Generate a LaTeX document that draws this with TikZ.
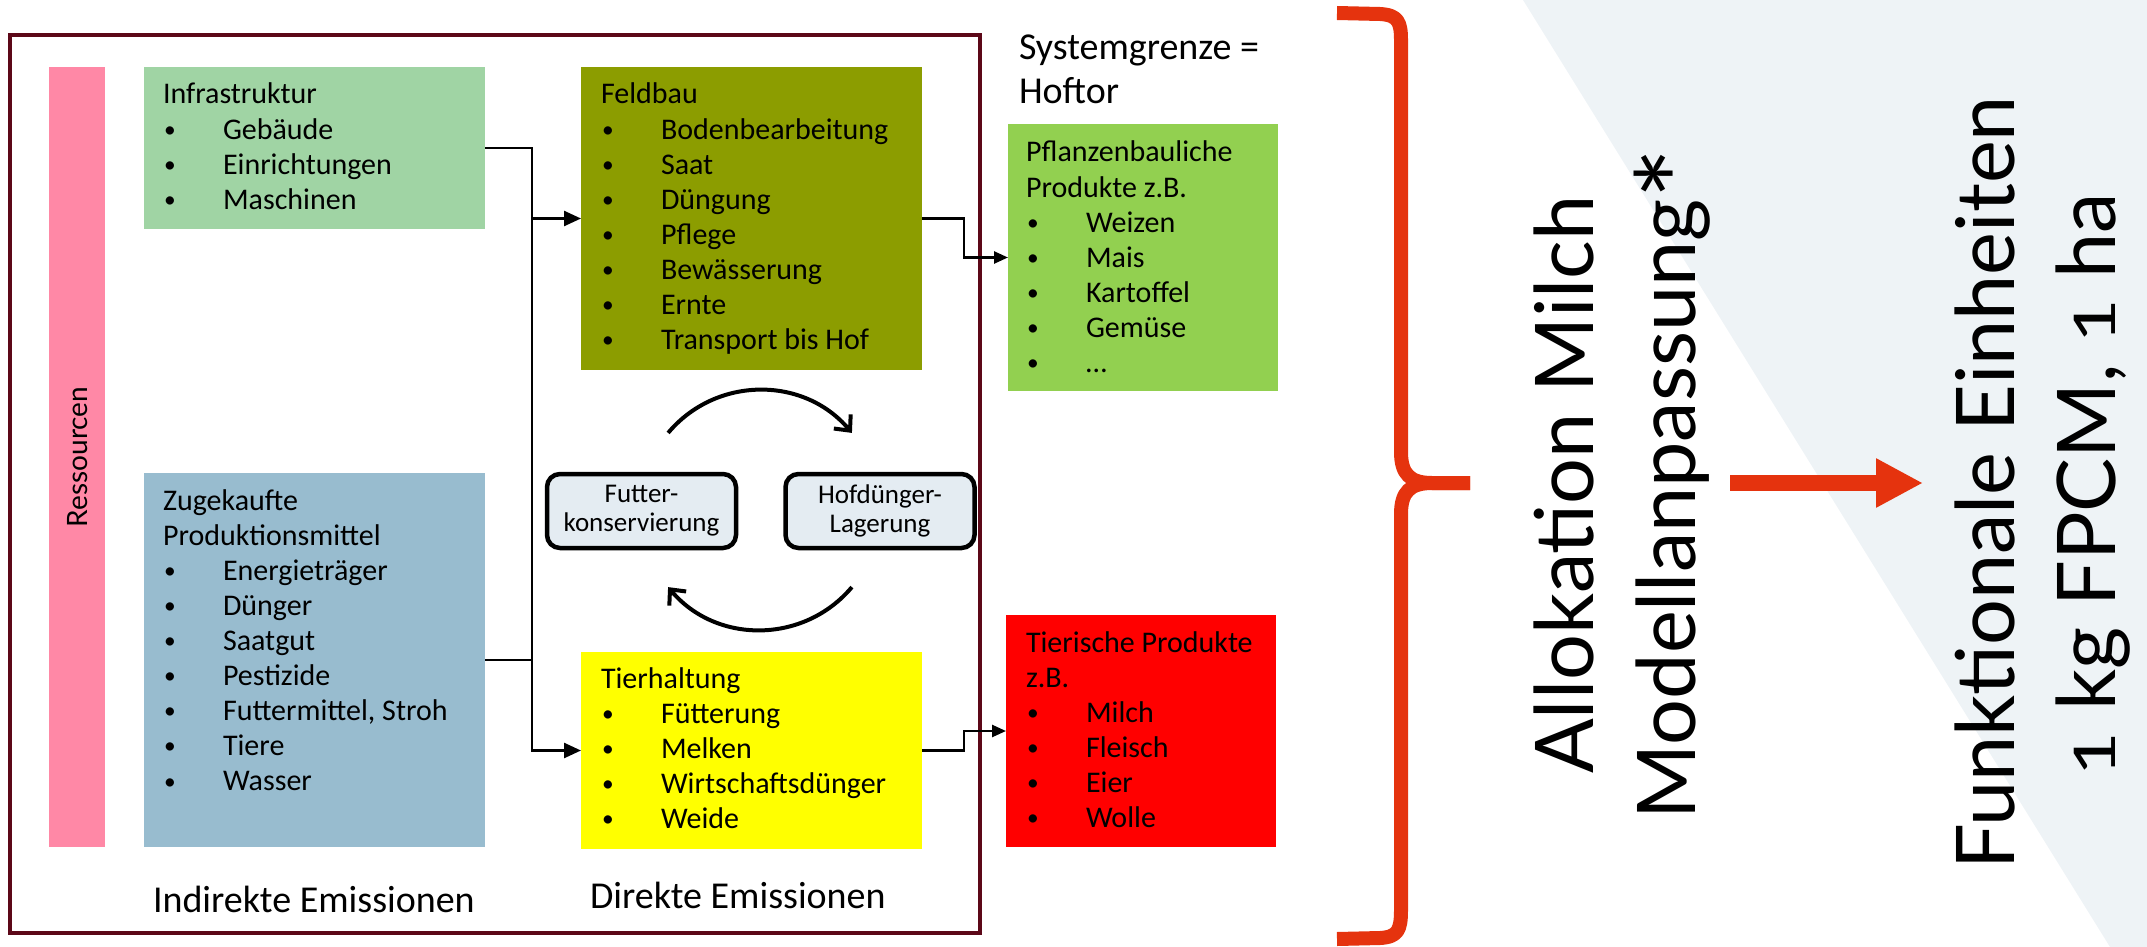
\documentclass[tikz,border=0pt]{standalone}
\usepackage{fontspec}
\setmainfont{Carlito}
\newfontfamily\bigfont{Lato}
\usetikzlibrary{arrows.meta}
\definecolor{cFrame}{RGB}{92,8,24}
\definecolor{cPink}{RGB}{255,136,166}
\definecolor{cInfra}{RGB}{160,212,164}
\definecolor{cZug}{RGB}{152,188,207}
\definecolor{cFeld}{RGB}{140,157,0}
\definecolor{cTierh}{RGB}{255,255,0}
\definecolor{cPfl}{RGB}{146,208,80}
\definecolor{cTierp}{RGB}{255,0,0}
\definecolor{cRound}{RGB}{228,236,242}
\definecolor{cRed}{RGB}{229,51,14}
\definecolor{cBg}{RGB}{238,243,246}
\newcommand\bi[1]{\makebox[30pt][l]{\hspace{0.6pt}\raisebox{0.9pt}{\scalebox{0.78}{\textbullet}}}#1}
\newcommand\one{\scalebox{0.95}[0.71]{1}}
\begin{document}
\begin{tikzpicture}[x=0.5pt,y=-0.5pt,
  boxs/.style={draw=none,inner sep=0pt,outer sep=0pt},
  txt/.style={inner sep=0pt,outer sep=0pt,anchor=base west,font=\fontsize{15}{17.55}\selectfont},
  lbl/.style={inner sep=0pt,outer sep=0pt,anchor=base west,font=\fontsize{19}{22}\selectfont},
  rbox/.style={draw=black,line width=2.25pt,fill=cRound,rounded corners=6.5pt,inner sep=0pt,
    minimum width=94.5pt,minimum height=37pt,align=center,font=\fontsize{13.5}{14.5}\selectfont},
  conn/.style={line width=1.25pt,draw=black},
  inarr/.style={-{Triangle[length=8.5pt,width=7.5pt]}},
  outarr/.style={-{Triangle[length=7pt,width=6pt]}},
  cyc/.style={line width=2pt,-{Straight Barb[length=6pt,width=11pt,line width=2pt]}},
  bigtxt/.style={inner sep=0pt,outer sep=0pt,rotate=90,anchor=base,font=\bigfont\fontsize{40.5}{48}\selectfont}]
\useasboundingbox (0,0) rectangle (2147,947);
\fill[cBg] (1523,0) -- (2147,0) -- (2147,947) -- (2110,947) -- cycle;

% outer frame
\draw[cFrame,line width=2pt] (10,35) rectangle (980,933);

% boxes
\node[boxs,fill=cPink,minimum width=28pt,minimum height=390pt] (res) at (77,457) {};
\node[inner sep=0pt,rotate=90,anchor=base,font=\bigfont\fontsize{14}{16}\selectfont] (restxt) at (87,457) {Ressourcen};
\node[boxs,fill=cInfra,minimum width=170.5pt,minimum height=81pt] (infra) at (314.5,148) {};
\node[boxs,fill=cZug,minimum width=170.5pt,minimum height=187pt] (zug) at (314.5,660) {};
\node[boxs,fill=cFeld,minimum width=170.5pt,minimum height=151.5pt] (feld) at (751.5,218.5) {};
\node[boxs,fill=cTierh,minimum width=170.5pt,minimum height=98.5pt] (tierh) at (751.5,750.5) {};
\node[boxs,fill=cPfl,minimum width=135pt,minimum height=133.5pt] (pfl) at (1143,257.5) {};
\node[boxs,fill=cTierp,minimum width=135pt,minimum height=116pt] (tierp) at (1141,731) {};

\node[txt] (infratxt) at (163,104) {\begin{tabular}[t]{@{}l@{}}Infrastruktur\\ \bi{Gebäude}\\ \bi{Einrichtungen}\\ \bi{Maschinen}\end{tabular}};
\node[txt] (zugtxt) at (163,510) {\begin{tabular}[t]{@{}l@{}}Zugekaufte\\ Produktionsmittel\\ \bi{Energieträger}\\ \bi{Dünger}\\ \bi{Saatgut}\\ \bi{Pestizide}\\ \bi{Futtermittel, Stroh}\\ \bi{Tiere}\\ \bi{Wasser}\end{tabular}};
\node[txt] (feldtxt) at (601,104) {\begin{tabular}[t]{@{}l@{}}Feldbau\\ \bi{Bodenbearbeitung}\\ \bi{Saat}\\ \bi{Düngung}\\ \bi{Pflege}\\ \bi{Bewässerung}\\ \bi{Ernte}\\ \bi{Transport bis Hof}\end{tabular}};
\node[txt] (tierhtxt) at (601,688) {\begin{tabular}[t]{@{}l@{}}Tierhaltung\\ \bi{Fütterung}\\ \bi{Melken}\\ \bi{Wirtschaftsdünger}\\ \bi{Weide}\end{tabular}};
\node[txt] (pfltxt) at (1026,162) {\begin{tabular}[t]{@{}l@{}}Pflanzenbauliche\\ Produkte z.B.\\ \bi{Weizen}\\ \bi{Mais}\\ \bi{Kartoffel}\\ \bi{Gemüse}\\ \bi{…}\end{tabular}};
\node[txt] (tierptxt) at (1026,652) {\begin{tabular}[t]{@{}l@{}}Tierische Produkte\\ z.B.\\ \bi{Milch}\\ \bi{Fleisch}\\ \bi{Eier}\\ \bi{Wolle}\end{tabular}};

\node[lbl] (sysg) at (1019,60) {\begin{tabular}[t]{@{}l@{}}Systemgrenze =\\ Hoftor\end{tabular}};
\node[lbl] (indir) at (153,912) {Indirekte Emissionen};
\node[lbl] (dir) at (590,908) {Direkte Emissionen};

% rounded boxes
\node[rbox] (futter) at (641.5,511) {Futter-\\konservierung};
\node[rbox] (hofd) at (880,511) {Hofdünger-\\Lagerung};

% cycle arrows
\coordinate (c1) at (668.1,432.9);
\coordinate (c2) at (851.9,432.9);
\coordinate (c3) at (851.9,587.1);
\coordinate (c4) at (668.1,587.1);
\draw[cyc] (c1) .. controls (716.1,375.8) and (803.9,375.8) .. (c2);
\draw[cyc] (c3) .. controls (803.9,644.2) and (716.1,644.2) .. (c4);

% connectors
\coordinate (bus) at (532,500);
\coordinate (bus2) at (964,500);
\draw[conn,inarr] (infra.east) -- (infra.east -| bus) -- (tierh.west -| bus) -- (tierh.west);
\draw[conn,inarr] (feld.west -| bus) -- (feld.west);
\draw[conn] (zug.east) -- (zug.east -| bus);
\draw[conn,outarr] (feld.east) -- (feld.east -| bus2) -- (pfl.west -| bus2) -- (pfl.west);
\draw[conn,outarr] (tierh.east) -- (tierh.east -| bus2) -- (tierp.west -| bus2) -- (tierp.west);

% brace
\draw[cRed,line width=7pt,line join=round] (1337,13) -- (1380,14) .. controls (1398,15) and (1401,22) .. (1401,40)
  -- (1401,452) .. controls (1401,474) and (1410,483) .. (1432,483) -- (1470,483);
\draw[cRed,line width=7pt,line join=round] (1470,483) -- (1432,483) .. controls (1410,483) and (1401,492) .. (1401,514)
  -- (1401,910) .. controls (1401,930) and (1398,937) .. (1380,938) -- (1337,939);

% big arrow
\coordinate (arrS) at (1730,483);
\coordinate (arrE) at (1923,483);
\draw[cRed,line width=8pt,-{Triangle[length=23.5pt,width=23pt]}] (arrS) -- (arrE);

% big rotated texts
\node[bigtxt] (allo) at (1593,484.5) {Allokation Milch};
\node[bigtxt] (modell) at (1695,483.5) {Modellanpassung\raisebox{-15pt}{\scalebox{1.5}{*}}};
\node[bigtxt] (funk) at (2014,483) {Funktionale Einheiten};
\node[bigtxt] (fpcm) at (2115,484.5) {\one\ kg FPCM, \one\ ha};
\end{tikzpicture}
\end{document}
